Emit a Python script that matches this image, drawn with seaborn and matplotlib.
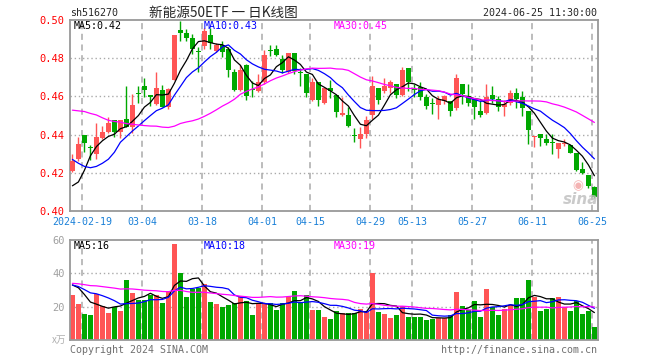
import numpy as np
import pandas as pd
import matplotlib
matplotlib.use("Agg")
import matplotlib.pyplot as plt
import seaborn as sns

sns.set_style("white")
plt.rcParams["font.family"] = ["DejaVu Sans Mono", "Noto Sans CJK SC"]

# Daily K-line of sh516270, 2024-02-07 .. 2024-06-25 (88 trading days)
opens = [0.421, 0.427, 0.440, 0.4335, 0.430, 0.438, 0.4414, 0.4474, 0.4414, 0.4484,
         0.4439, 0.462, 0.4653, 0.4607, 0.4558, 0.4635, 0.4545, 0.4687, 0.495, 0.493,
         0.4905, 0.4838, 0.4865, 0.4919, 0.4839, 0.487, 0.4849, 0.473, 0.4635, 0.4765,
         0.4635, 0.4628, 0.4674, 0.4842, 0.4849, 0.4796, 0.473, 0.4828, 0.4725, 0.4716,
         0.4579, 0.4674, 0.4565, 0.4646, 0.4607, 0.4502, 0.4502, 0.4398, 0.4379, 0.4403,
         0.4505, 0.4646, 0.4628, 0.4646, 0.4663, 0.4607, 0.4747, 0.4637, 0.4649, 0.4596,
         0.4562, 0.4554, 0.4575, 0.4575, 0.4537, 0.4663, 0.4603, 0.4589, 0.4523, 0.4512,
         0.4607, 0.4586, 0.4547, 0.4568, 0.4618, 0.4596, 0.4525, 0.4386, 0.4402, 0.4375,
         0.4356, 0.4323, 0.4349, 0.4344, 0.4302, 0.4221, 0.4189, 0.4126]
highs = [0.430, 0.439, 0.440, 0.4345, 0.4463, 0.4446, 0.4491, 0.4474, 0.4474, 0.4653,
         0.4611, 0.4653, 0.4695, 0.4607, 0.473, 0.466, 0.4642, 0.4919, 0.4993, 0.4951,
         0.4926, 0.486, 0.4958, 0.4958, 0.488, 0.4888, 0.486, 0.4744, 0.4765, 0.4768,
         0.468, 0.4719, 0.4842, 0.487, 0.487, 0.4818, 0.4828, 0.4828, 0.4747, 0.4716,
         0.4698, 0.4674, 0.4646, 0.4688, 0.4607, 0.4596, 0.4547, 0.4432, 0.4442, 0.4498,
         0.4705, 0.4646, 0.4695, 0.4684, 0.4663, 0.4754, 0.4747, 0.4667, 0.4674, 0.4614,
         0.4593, 0.4604, 0.4607, 0.4575, 0.4719, 0.4663, 0.4667, 0.4589, 0.4579, 0.4667,
         0.4656, 0.4604, 0.4579, 0.4635, 0.4646, 0.4628, 0.4525, 0.4393, 0.4402, 0.4403,
         0.4402, 0.4358, 0.4375, 0.4344, 0.4302, 0.4256, 0.4189, 0.413]
lows = [0.4205, 0.426, 0.431, 0.4265, 0.4274, 0.4379, 0.441, 0.4386, 0.4382, 0.4439,
        0.4407, 0.4565, 0.4596, 0.4551, 0.4554, 0.4544, 0.4535, 0.4687, 0.489, 0.4891,
        0.482, 0.4728, 0.4849, 0.4849, 0.483, 0.4804, 0.4702, 0.4628, 0.4628, 0.4582,
        0.4596, 0.4625, 0.4665, 0.4814, 0.481, 0.472, 0.4723, 0.4716, 0.4653, 0.4596,
        0.4575, 0.4551, 0.456, 0.459, 0.449, 0.450, 0.4442, 0.4361, 0.433, 0.4382,
        0.4481, 0.4561, 0.462, 0.462, 0.459, 0.460, 0.463, 0.4596, 0.458, 0.4535,
        0.4509, 0.4481, 0.456, 0.4498, 0.453, 0.4558, 0.455, 0.4484, 0.4491, 0.451,
        0.4565, 0.4526, 0.4495, 0.4554, 0.454, 0.4498, 0.4349, 0.4337, 0.434, 0.4344,
        0.4298, 0.4277, 0.434, 0.4305, 0.4207, 0.4195, 0.4123, 0.4067]
closes = [0.426, 0.435, 0.4355, 0.433, 0.439, 0.4414, 0.4463, 0.4414, 0.4474, 0.4442,
          0.4554, 0.4615, 0.4635, 0.4596, 0.4646, 0.4544, 0.464, 0.4919, 0.493, 0.4905,
          0.4849, 0.4832, 0.494, 0.4881, 0.4867, 0.4832, 0.474, 0.4635, 0.474, 0.4603,
          0.4632, 0.4674, 0.4818, 0.4836, 0.4818, 0.4737, 0.4828, 0.4733, 0.4721, 0.4618,
          0.4674, 0.4579, 0.4646, 0.4628, 0.4516, 0.4512, 0.4446, 0.4394, 0.4403, 0.4477,
          0.4656, 0.4579, 0.4656, 0.4674, 0.4607, 0.4737, 0.4677, 0.4633, 0.4596, 0.4551,
          0.456, 0.4586, 0.46, 0.4523, 0.4695, 0.4611, 0.4568, 0.4544, 0.4502, 0.4596,
          0.4586, 0.4544, 0.4561, 0.4618, 0.4586, 0.4537, 0.4425, 0.4393, 0.4382, 0.4354,
          0.4354, 0.4358, 0.4358, 0.4305, 0.4214, 0.42, 0.413, 0.4074]
# volume, 10k lots
volumes = [27.2, 21.8, 15.8, 15.2, 27.6, 20.5, 16.4, 19.7, 17.7, 36.2,
           28.4, 24.2, 24.2, 27.1, 27.1, 22.4, 29.2, 57.8, 40.5, 26.0,
           30.5, 31.4, 33.8, 23.1, 21.8, 19.6, 21.2, 22.4, 26.5, 23.6,
           15.2, 22.4, 22.4, 22.3, 17.8, 22.4, 25.8, 29.6, 22.4, 27.2,
           18.2, 18.2, 14.0, 12.5, 17.6, 16.3, 16.3, 16.3, 18.5, 17.2,
           40.5, 17.0, 15.8, 13.4, 15.2, 20.6, 14.0, 14.0, 14.0, 12.3,
           12.8, 13.4, 13.4, 15.2, 29.0, 20.6, 18.2, 23.6, 14.0, 30.8,
           20.0, 15.2, 18.8, 21.2, 25.4, 25.4, 35.8, 26.0, 17.6, 18.8,
           25.4, 26.0, 20.0, 17.6, 23.2, 15.8, 17.6, 8.0]

# 29 sessions before the window, estimated so the MA lines start where the picture shows
hist_close = [0.446, 0.446, 0.463, 0.463, 0.486, 0.486, 0.459, 0.459, 0.466, 0.466,
              0.473, 0.473, 0.4666, 0.4666, 0.4697, 0.4697, 0.471, 0.451, 0.4667, 0.4667,
              0.455, 0.452, 0.440, 0.432, 0.425, 0.425, 0.405, 0.395, 0.415]
hist_volume = [30, 31, 33, 32, 34, 30, 33, 35, 32, 31,
               34, 36, 33, 32, 35, 34, 32, 42, 46, 45,
               31, 34, 35, 33, 32, 30, 36, 38, 33.8]

tick_slots = [2, 12, 22, 32, 40, 50, 57, 67, 77, 87]
tick_labels = ["2024-02-19", "03-04", "03-18", "04-01", "04-15",
               "04-29", "05-13", "05-27", "06-11", "06-25"]
price_ticks = [0.40, 0.42, 0.44, 0.46, 0.48, 0.50]
volume_ticks = [20, 40, 60]
ma_windows = [5, 10, 30]
ma_colors = ["black", "blue", "magenta"]
price_ma_labels = ["MA5:0.42", "MA10:0.43", "MA30:0.45"]
volume_ma_labels = ["MA5:16", "MA10:18", "MA30:19"]

RED = "#ff5555"
GREEN = "#00a800"
GRID = "#aaaaaa"

df = pd.DataFrame({"open": opens, "high": highs, "low": lows,
                   "close": closes, "volume": volumes})
df["slot"] = np.arange(len(df))
df["xc"] = df["slot"] + 0.4
df["color"] = np.where(df["close"] > df["open"], RED, GREEN)

n_hist = len(hist_close)
full_close = pd.Series(hist_close + closes)
full_vol = pd.Series(hist_volume + volumes)
for n in ma_windows:
    df[f"ma{n}"] = full_close.rolling(n).mean().iloc[n_hist:].to_numpy()
    df[f"vma{n}"] = full_vol.rolling(n).mean().iloc[n_hist:].to_numpy()

W, H = 660, 360
fig = plt.figure(figsize=(W / 100, H / 100), dpi=100)
ax = fig.add_axes([70 / W, 1 - 211 / H, 528 / W, 191 / H])
axv = fig.add_axes([70 / W, 1 - 340 / H, 528 / W, 100 / H])

# ---- price panel
for y in price_ticks[1:-1]:
    ax.axhline(y, color=GRID, ls=(0, (1, 2)), lw=1, zorder=0)
for a in (ax, axv):
    for s in tick_slots:
        a.axvline(s, color=GRID, ls=(0, (4, 3)), lw=1.1, zorder=0)

ax.vlines(df["xc"], df["low"], df["high"], colors=df["color"], lw=1, zorder=2)
body = np.maximum((df["close"] - df["open"]).abs(), 0.0005)
ax.bar(df["slot"], body, bottom=np.minimum(df["open"], df["close"]),
       width=0.78, align="edge", color=df["color"], lw=0, zorder=3)

for n, c in zip(ma_windows, ma_colors):
    sns.lineplot(data=df, x="xc", y=f"ma{n}", color=c, lw=0.9, ax=ax,
                 estimator=None, sort=False, zorder=4)

fs = 7.2
ax.set_xlim(0, len(df))
ax.set_ylim(price_ticks[0], price_ticks[-1])
ax.set_yticks(price_ticks, [f"{v:.2f}" for v in price_ticks])
ax.set_xticks(tick_slots, tick_labels)
ax.tick_params(axis="y", length=0, pad=4, labelsize=fs + 0.3, labelcolor="red")
ax.tick_params(axis="x", length=0, pad=4.5, labelsize=fs, labelcolor="#1a80d8")
ax.set_xlabel("")
ax.set_ylabel("")

# ---- volume panel
for y in volume_ticks[:-1]:
    axv.axhline(y, color=GRID, ls=(0, (1, 2)), lw=1, zorder=0)
axv.bar(df["slot"], df["volume"], width=0.8, align="edge",
        color=df["color"], lw=0, zorder=2)
for n, c in zip(ma_windows, ma_colors):
    sns.lineplot(data=df, x="xc", y=f"vma{n}", color=c, lw=0.9, ax=axv,
                 estimator=None, sort=False, zorder=4)
axv.set_xlim(0, len(df))
axv.set_ylim(0, volume_ticks[-1])
axv.set_yticks(volume_ticks, [str(v) for v in volume_ticks])
axv.set_xticks([])
axv.tick_params(axis="y", length=0, pad=4, labelsize=fs + 0.3, labelcolor="#a0a0a0")
axv.set_xlabel("")
axv.set_ylabel("")

for a in (ax, axv):
    for sp in a.spines.values():
        sp.set_color("#999999")
        sp.set_linewidth(1.3)

# ---- texts
fig.text(70 / W, 1 - 13 / H, "sh516270", fontsize=fs, va="center", ha="left")
fig.text(223 / W, 1 - 13 / H, "新能源50ETF 一 日K线图", fontsize=9.8,
         va="center", ha="center", family=["Noto Sans CJK SC", "DejaVu Sans"])
fig.text(597 / W, 1 - 13 / H, "2024-06-25 11:30:00", fontsize=fs,
         va="center", ha="right")

for xpos, lab, c in zip([74, 204, 334], price_ma_labels, ma_colors):
    fig.text(xpos / W, 1 - 26 / H, lab, color=c, fontsize=fs, va="center", ha="left")
for xpos, lab, c in zip([74, 204, 334], volume_ma_labels, ma_colors):
    fig.text(xpos / W, 1 - 246 / H, lab, color=c, fontsize=fs, va="center", ha="left")

fig.text(66 / W, 1 - 340 / H, "x万", fontsize=7, color="#b0b0b0",
         va="center", ha="right", family=["Noto Sans CJK SC"])
fig.text(70 / W, 1 - 350 / H, "Copyright 2024 SINA.COM", fontsize=fs,
         color="#707070", va="center", ha="left")
fig.text(597 / W, 1 - 350 / H, "http://finance.sina.com.cn", fontsize=fs,
         color="#707070", va="center", ha="right")

# sina watermark
fig.text(581 / W, 1 - 199 / H, "sina", fontsize=11, color="#bdbdbd",
         fontweight="bold", style="italic", va="center", ha="center",
         family=["DejaVu Sans"], alpha=0.8)
fig.text(578 / W, 1 - 186 / H, "◉", fontsize=9, color="#f2a0a0",
         va="center", ha="center", family=["DejaVu Sans"], alpha=0.8)

fig.savefig("out.png", dpi=100)
